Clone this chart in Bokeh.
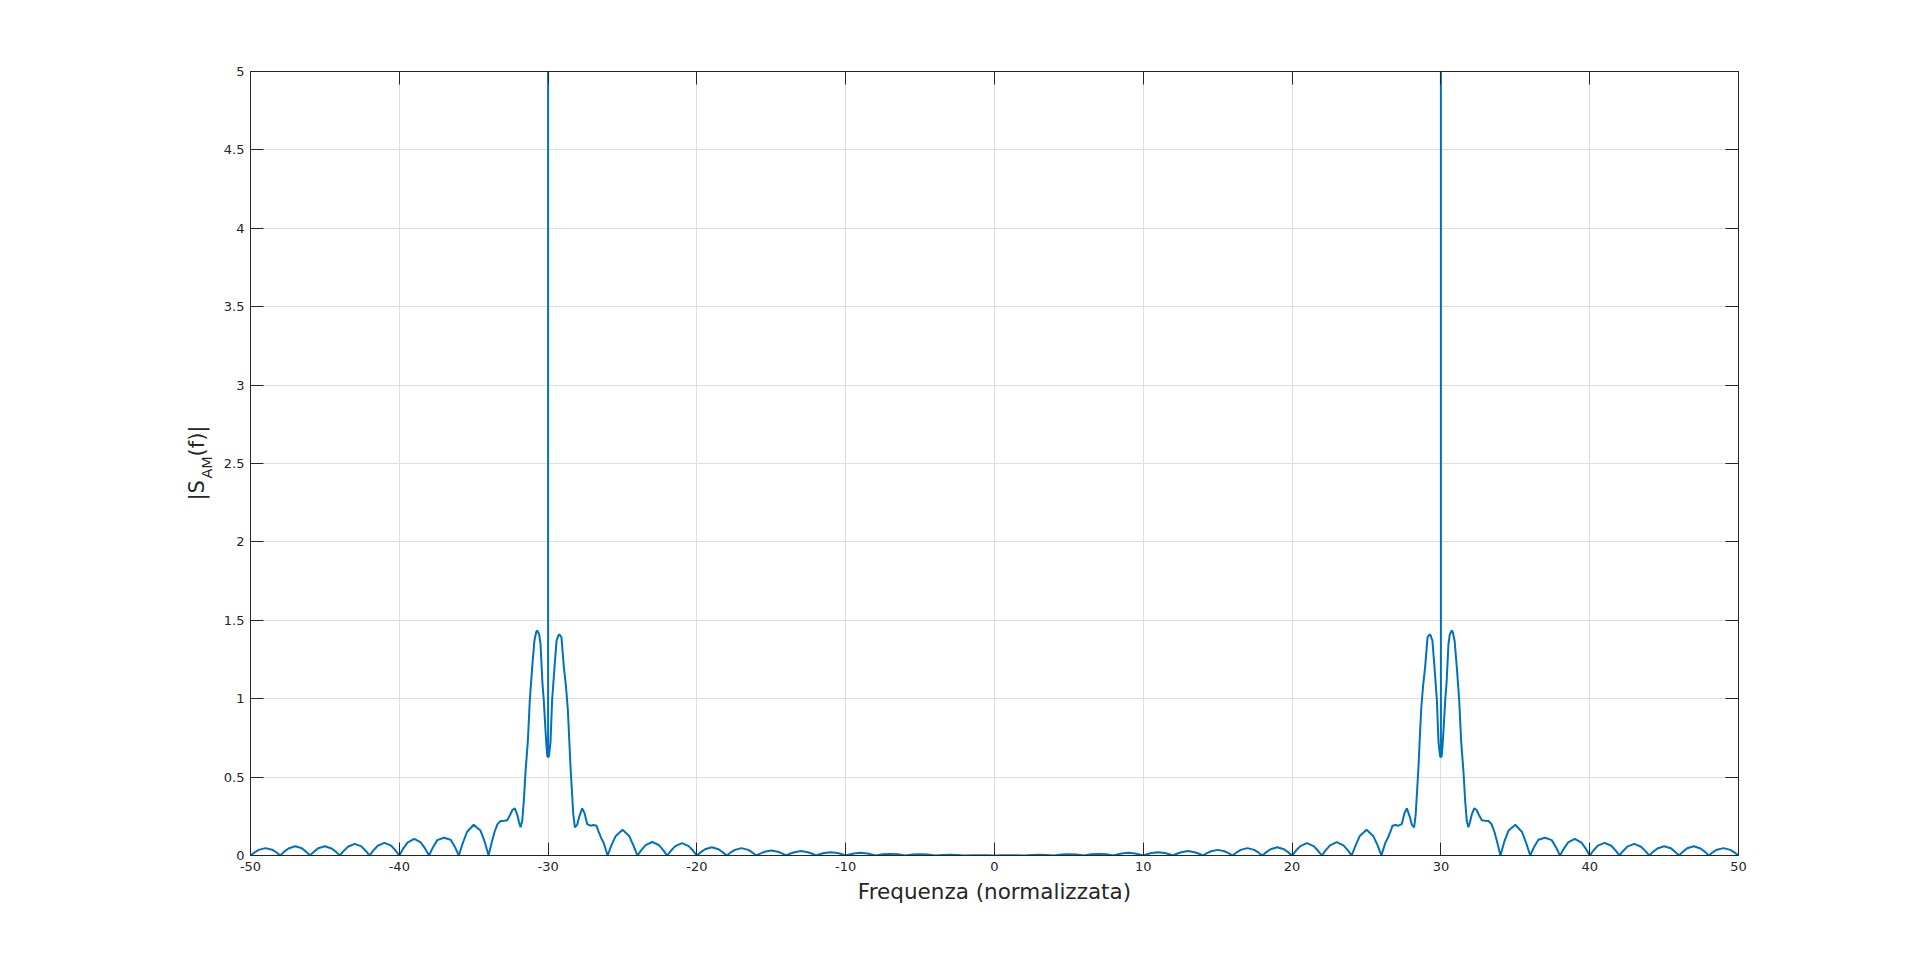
import math
from bokeh.plotting import figure
from bokeh.layouts import row
from bokeh.models import (Range1d, FixedTicker, LinearAxis, NumeralTickFormatter,
                          ColumnDataSource)
from bokeh.core.properties import value
from bokeh.embed import file_html
from bokeh.resources import INLINE

# ---------------- data ----------------
# far side lobes, negative frequencies
freq_neg_far = [
    -50.0, -49.75, -49.45, -49.0, -48.55, -48.25,
    -48.0, -47.75, -47.45, -47.0, -46.55, -46.25,
    -46.0, -45.75, -45.45, -45.0, -44.55, -44.25,
    -44.0, -43.75, -43.45, -43.0, -42.55, -42.25,
    -42.0, -41.75, -41.45, -41.0, -40.55, -40.25,
    -40.0, -39.75, -39.45, -39.0, -38.55, -38.25,
    -38.0, -37.75, -37.45, -37.0, -36.55, -36.25,
    -36.0, -35.75, -35.45, -35.0, -34.55, -34.25,
]
mag_neg_far = [
    0.0, 0.018, 0.036, 0.047, 0.037, 0.019,
    0.0, 0.023, 0.045, 0.059, 0.046, 0.023,
    0.0, 0.023, 0.046, 0.059, 0.045, 0.023,
    0.0, 0.028, 0.056, 0.074, 0.058, 0.029,
    0.0, 0.031, 0.062, 0.081, 0.063, 0.032,
    0.0, 0.042, 0.082, 0.106, 0.083, 0.042,
    0.0, 0.050, 0.098, 0.113, 0.100, 0.052,
    0.0, 0.075, 0.150, 0.196, 0.160, 0.085,
]

# band around the carrier at -30
freq_neg_band = [
    -34.0, -33.8, -33.6, -33.4, -33.2, -32.95, -32.75, -32.55, -32.4, -32.24,
    -32.07, -31.95, -31.85, -31.74, -31.63, -31.52, -31.36, -31.23, -31.07, -30.92,
    -30.8, -30.73, -30.6, -30.51, -30.38, -30.29, -30.17, -30.11, -30.05, -30.0,
    -30.0, -30.0, -29.95, -29.84, -29.73, -29.57, -29.43, -29.3, -29.23, -29.1,
    -28.94, -28.8, -28.67, -28.49, -28.31, -28.2, -28.05, -27.9, -27.71, -27.55,
    -27.37, -27.15, -26.95, -26.75, -26.6, -26.45, -26.26,
]
mag_neg_band = [
    0.0, 0.08, 0.15, 0.2, 0.22, 0.222, 0.225, 0.26, 0.29, 0.30,
    0.26, 0.21, 0.18, 0.22, 0.35, 0.53, 0.73, 0.99, 1.20, 1.37,
    1.425, 1.435, 1.41, 1.35, 1.10, 0.99, 0.79, 0.70, 0.63, 0.63,
    40.0, 0.63, 0.63, 0.72, 0.99, 1.20, 1.37, 1.405, 1.41, 1.39,
    1.20, 1.08, 0.925, 0.56, 0.266, 0.18, 0.195, 0.25, 0.30, 0.27,
    0.20, 0.19, 0.195, 0.19, 0.15, 0.115, 0.08,
]

# near lobes, negative frequencies up to 0
freq_neg_near = [
    -26.0, -25.75, -25.45, -25.0, -24.55, -24.25,
    -24.0, -23.75, -23.45, -23.0, -22.55, -22.25,
    -22.0, -21.75, -21.45, -21.0, -20.55, -20.25,
    -20.0, -19.75, -19.45, -19.0, -18.55, -18.25,
    -18.0, -17.75, -17.45, -17.0, -16.55, -16.25,
    -16.0, -15.75, -15.45, -15.0, -14.55, -14.25,
    -14.0, -13.75, -13.45, -13.0, -12.55, -12.25,
    -12.0, -11.75, -11.45, -11.0, -10.55, -10.25,
    -10.0, -9.75, -9.45, -9.0, -8.55, -8.25,
    -8.0, -7.5, -7.0, -6.5,
    -6.0, -5.5, -5.0, -4.5,
    -4.0, -3.5, -3.0, -2.5,
    -2.0, -1.5, -1.0, -0.5,
    0.0,
]
mag_neg_near = [
    0.0, 0.065, 0.125, 0.164, 0.125, 0.060,
    0.0, 0.033, 0.066, 0.086, 0.066, 0.033,
    0.0, 0.030, 0.060, 0.079, 0.060, 0.030,
    0.0, 0.020, 0.040, 0.053, 0.040, 0.020,
    0.0, 0.018, 0.036, 0.047, 0.036, 0.018,
    0.0, 0.012, 0.024, 0.032, 0.024, 0.012,
    0.0, 0.011, 0.021, 0.028, 0.021, 0.011,
    0.0, 0.008, 0.016, 0.021, 0.016, 0.008,
    0.0, 0.007, 0.013, 0.017, 0.013, 0.007,
    0.0, 0.008, 0.010, 0.008,
    0.0, 0.006, 0.008, 0.006,
    0.0, 0.003, 0.004, 0.003,
    0.0, 0.001, 0.002, 0.001,
    0.0,
]

# near lobes, positive frequencies
freq_pos_near = [
    0.5, 1.0, 1.5,
    2.0, 2.5, 3.0, 3.5,
    4.0, 4.5, 5.0, 5.5,
    6.0, 6.5, 7.0, 7.5,
    8.0, 8.25, 8.55, 9.0, 9.45, 9.75,
    10.0, 10.25, 10.55, 11.0, 11.45, 11.75,
    12.0, 12.25, 12.55, 13.0, 13.45, 13.75,
    14.0, 14.25, 14.55, 15.0, 15.45, 15.75,
    16.0, 16.25, 16.55, 17.0, 17.45, 17.75,
    18.0, 18.25, 18.55, 19.0, 19.45, 19.75,
    20.0, 20.25, 20.55, 21.0, 21.45, 21.75,
    22.0, 22.25, 22.55, 23.0, 23.45, 23.75,
    24.0, 24.25, 24.55, 25.0, 25.45, 25.75,
    26.0,
]
mag_pos_near = [
    0.001, 0.002, 0.001,
    0.0, 0.003, 0.004, 0.003,
    0.0, 0.006, 0.008, 0.006,
    0.0, 0.008, 0.010, 0.008,
    0.0, 0.007, 0.013, 0.017, 0.013, 0.007,
    0.0, 0.008, 0.016, 0.021, 0.016, 0.008,
    0.0, 0.011, 0.021, 0.028, 0.021, 0.011,
    0.0, 0.014, 0.027, 0.036, 0.027, 0.014,
    0.0, 0.018, 0.036, 0.047, 0.036, 0.018,
    0.0, 0.020, 0.040, 0.053, 0.040, 0.020,
    0.0, 0.030, 0.060, 0.079, 0.060, 0.030,
    0.0, 0.033, 0.065, 0.085, 0.065, 0.033,
    0.0, 0.060, 0.125, 0.164, 0.125, 0.065,
    0.0,
]

# band around the carrier at +30
freq_pos_band = [
    26.26, 26.45, 26.6, 26.75, 26.95, 27.15, 27.37, 27.55, 27.71, 27.9,
    28.05, 28.2, 28.31, 28.49, 28.67, 28.8, 28.94, 29.1, 29.23, 29.3,
    29.43, 29.57, 29.73, 29.84, 29.95, 30.0, 30.0, 30.0, 30.05, 30.11,
    30.17, 30.29, 30.38, 30.51, 30.6, 30.73, 30.8, 30.92, 31.07, 31.23,
    31.36, 31.52, 31.63, 31.74, 31.85, 31.95, 32.07, 32.24, 32.4, 32.55,
    32.75, 32.95, 33.2, 33.4, 33.6, 33.8, 34.0,
]
mag_pos_band = [
    0.08, 0.115, 0.15, 0.19, 0.195, 0.19, 0.20, 0.27, 0.30, 0.25,
    0.195, 0.18, 0.266, 0.56, 0.925, 1.08, 1.20, 1.39, 1.41, 1.405,
    1.37, 1.20, 0.99, 0.72, 0.63, 0.63, 40.0, 0.63, 0.63, 0.70,
    0.79, 0.99, 1.10, 1.35, 1.41, 1.435, 1.425, 1.37, 1.20, 0.99,
    0.73, 0.53, 0.35, 0.22, 0.18, 0.21, 0.26, 0.30, 0.29, 0.26,
    0.225, 0.222, 0.22, 0.2, 0.15, 0.08, 0.0,
]

# far side lobes, positive frequencies
freq_pos_far = [
    34.25, 34.55, 35.0, 35.45, 35.75,
    36.0, 36.25, 36.55, 37.0, 37.45, 37.75,
    38.0, 38.25, 38.55, 39.0, 39.45, 39.75,
    40.0, 40.25, 40.55, 41.0, 41.45, 41.75,
    42.0, 42.25, 42.55, 43.0, 43.45, 43.75,
    44.0, 44.25, 44.55, 45.0, 45.45, 45.75,
    46.0, 46.25, 46.55, 47.0, 47.45, 47.75,
    48.0, 48.25, 48.55, 49.0, 49.45, 49.75,
    50.0,
]
mag_pos_far = [
    0.085, 0.160, 0.196, 0.150, 0.075,
    0.0, 0.052, 0.100, 0.113, 0.098, 0.050,
    0.0, 0.042, 0.083, 0.106, 0.082, 0.042,
    0.0, 0.032, 0.063, 0.081, 0.062, 0.031,
    0.0, 0.029, 0.058, 0.074, 0.056, 0.028,
    0.0, 0.023, 0.045, 0.059, 0.046, 0.023,
    0.0, 0.023, 0.046, 0.059, 0.045, 0.023,
    0.0, 0.019, 0.037, 0.047, 0.036, 0.018,
    0.0,
]

x_ticks = [-50, -40, -30, -20, -10, 0, 10, 20, 30, 40, 50]
y_ticks = [0, 0.5, 1, 1.5, 2, 2.5, 3, 3.5, 4, 4.5, 5]

x_label = "Frequenza (normalizzata)"
y_label_parts = ["|S", "AM", "(f)|"]

# ---------------- build ----------------
freq = (freq_neg_far + freq_neg_band + freq_neg_near +
        freq_pos_near + freq_pos_band + freq_pos_far)
mag = (mag_neg_far + mag_neg_band + mag_neg_near +
       mag_pos_near + mag_pos_band + mag_pos_far)
source = ColumnDataSource(data=dict(f=freq, m=mag))

FONT = "DejaVu Sans"
INK = "#262626"
H = 945
LW = 220  # width of the strip that carries the y label

yrange = Range1d(0, 5)

p = figure(width=1904 - LW, height=H,
           x_range=Range1d(-50, 50), y_range=yrange,
           output_backend="svg", toolbar_location=None,
           min_border_left=250 - LW, min_border_right=166,
           min_border_top=71, min_border_bottom=90,
           background_fill_color="white", border_fill_color="white")

p.outline_line_color = INK
p.outline_line_width = 1

p.line("f", "m", source=source, line_width=2, line_color="#0072BD")


def style_axis(ax, ticks, show_labels):
    ax.ticker = FixedTicker(ticks=ticks)
    ax.axis_line_color = INK
    ax.axis_line_width = 1
    ax.major_tick_line_color = INK
    ax.major_tick_in = 13
    ax.major_tick_out = 0
    ax.minor_tick_line_color = None
    ax.major_label_text_font = FONT
    ax.major_label_text_font_size = "13px"
    ax.major_label_text_color = INK if show_labels else None
    ax.major_label_standoff = 6


xb = p.xaxis[0]
style_axis(xb, x_ticks, True)
xb.formatter = NumeralTickFormatter(format="0")
xb.axis_label = x_label
xb.axis_label_text_font = FONT
xb.axis_label_text_font_size = "21.5px"
xb.axis_label_text_font_style = "normal"
xb.axis_label_text_color = INK
xb.axis_label_standoff = 5

yl = p.yaxis[0]
style_axis(yl, y_ticks, True)
yl.formatter = NumeralTickFormatter(format="0.[0]")

xt = LinearAxis()
style_axis(xt, x_ticks, False)
p.add_layout(xt, "above")
yr = LinearAxis()
style_axis(yr, y_ticks, False)
p.add_layout(yr, "right")

p.xgrid.ticker = FixedTicker(ticks=x_ticks)
p.ygrid.ticker = FixedTicker(ticks=y_ticks)
for g in (p.xgrid, p.ygrid):
    g.grid_line_color = "#dedede"
    g.grid_line_width = 1

# ---- strip on the left carrying the rotated y label with subscript ----
# (its frame is aligned with the main frame by the row layout, so it shares y_range)
q = figure(width=LW, height=H, x_range=Range1d(0, LW), y_range=yrange,
           output_backend="svg", toolbar_location=None,
           x_axis_location=None, y_axis_location=None,
           min_border=0, outline_line_color=None,
           background_fill_color="white", border_fill_color="white")
q.grid.visible = False

lab_kw = dict(angle=math.pi / 2, text_align="left", text_baseline="alphabetic",
              text_font=value(FONT), text_color=INK)
q.text(x=[196], y=[2.264], text=[y_label_parts[0]], text_font_size="21px", **lab_kw)
q.text(x=[206], y=[2.404], text=[y_label_parts[1]], text_font_size="14.5px", **lab_kw)
q.text(x=[196], y=[2.545], text=[y_label_parts[2]], text_font_size="21px", **lab_kw)

layout = row(q, p)
open("out.html", "w").write(file_html(layout, INLINE))
